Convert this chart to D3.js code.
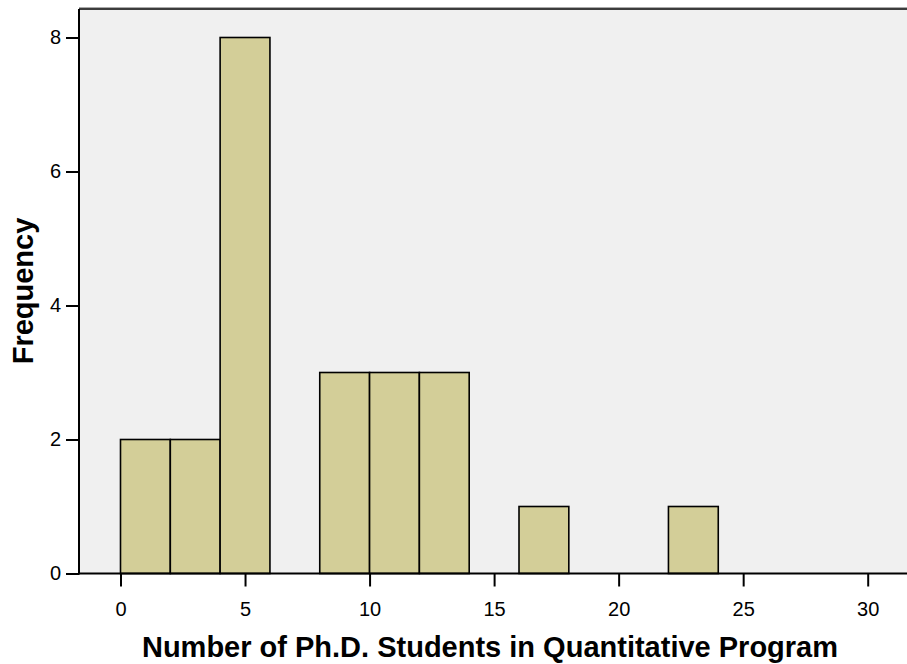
<!DOCTYPE html>
<html>
<head>
<meta charset="utf-8">
<script src="https://cdn.jsdelivr.net/npm/d3@7"></script>
<style>
  body { margin: 0; background: #fff; }
  svg { display: block; font-family: Arial, 'Liberation Sans', sans-serif; }
  .bar { fill: #d3ce98; stroke: #000; stroke-width: 1.6; }
  .axis-title { font-size: 29px; font-weight: bold; }
</style>
</head>
<body>
<svg id="svg" width="907" height="664"></svg>
<script>
// histogram bins (width 2) and counts
const binStarts = [0, 2, 4, 6, 8, 10, 12, 14, 16, 18, 20, 22]
const counts = [2, 2, 8, 0, 3, 3, 3, 0, 1, 0, 0, 1]
const xTicks = [0, 5, 10, 15, 20, 25, 30]
const yTicks = [0, 2, 4, 6, 8]
const BIN_W = 2

const PLOT_L = 79
const PLOT_T = 9
const PLOT_B = 573.5
const PLOT_R = 907

const svg = d3.select('svg')

const x = d3.scaleLinear().domain([0, 30]).range([120.5, 867.7])
const y = d3.scaleLinear().domain([0, 8]).range([PLOT_B, 37.5])

// plot background
svg.append('rect')
  .attr('x', PLOT_L)
  .attr('y', PLOT_T - 1.5)
  .attr('width', PLOT_R - PLOT_L + 2)
  .attr('height', PLOT_B - PLOT_T + 1.5)
  .attr('fill', '#f0f0f0')
svg.append('line')
  .attr('x1', PLOT_L).attr('x2', PLOT_R + 2)
  .attr('y1', PLOT_T - 1.5).attr('y2', PLOT_T - 1.5)
  .attr('stroke', '#aaa').attr('stroke-width', 1)
svg.append('line')
  .attr('x1', PLOT_L).attr('x2', PLOT_R + 2)
  .attr('y1', PLOT_T).attr('y2', PLOT_T)
  .attr('stroke', '#000').attr('stroke-width', 1.5)

// bars
const data = binStarts.map((s, i) => ({ s, c: counts[i] })).filter(d => d.c > 0)
svg.selectAll('.bar')
  .data(data)
  .enter()
  .append('rect')
  .attr('class', 'bar')
  .attr('x', d => x(d.s))
  .attr('y', d => y(d.c))
  .attr('width', d => x(d.s + BIN_W) - x(d.s))
  .attr('height', d => y(0) - y(d.c))

// axes
const xAxis = d3.axisBottom(x).tickValues(xTicks).tickSize(13).tickPadding(15).tickSizeOuter(0)
const gx = svg.append('g').attr('transform', 'translate(0,' + PLOT_B + ')').call(xAxis)
gx.select('.domain').remove()
gx.selectAll('.tick line').attr('stroke', '#000').attr('stroke-width', 2)
gx.selectAll('.tick text')
  .style('font-size', '20px')
  .style('font-family', 'Arial, "Liberation Sans", sans-serif')
  .attr('dy', '0.71em')
gx.append('line')
  .attr('x1', PLOT_L).attr('x2', PLOT_R + 2)
  .attr('y1', 0).attr('y2', 0)
  .attr('stroke', '#000').attr('stroke-width', 2)

const yAxis = d3.axisLeft(y).tickValues(yTicks).tickSize(13).tickPadding(5).tickSizeOuter(0)
const gy = svg.append('g').attr('transform', 'translate(' + PLOT_L + ',0)').call(yAxis)
gy.select('.domain').remove()
gy.selectAll('.tick line').attr('stroke', '#000').attr('stroke-width', 2)
gy.selectAll('.tick text')
  .style('font-size', '20px')
  .style('font-family', 'Arial, "Liberation Sans", sans-serif')
gy.append('line')
  .attr('x1', 0).attr('x2', 0)
  .attr('y1', PLOT_T).attr('y2', PLOT_B + 1)
  .attr('stroke', '#000').attr('stroke-width', 2)

// titles
svg.append('text')
  .attr('class', 'axis-title')
  .attr('x', 490)
  .attr('y', 657)
  .attr('text-anchor', 'middle')
  .text('Number of Ph.D. Students in Quantitative Program')

svg.append('text')
  .attr('class', 'axis-title')
  .attr('transform', 'translate(33,291) rotate(-90)')
  .attr('text-anchor', 'middle')
  .text('Frequency')
</script>
</body>
</html>
